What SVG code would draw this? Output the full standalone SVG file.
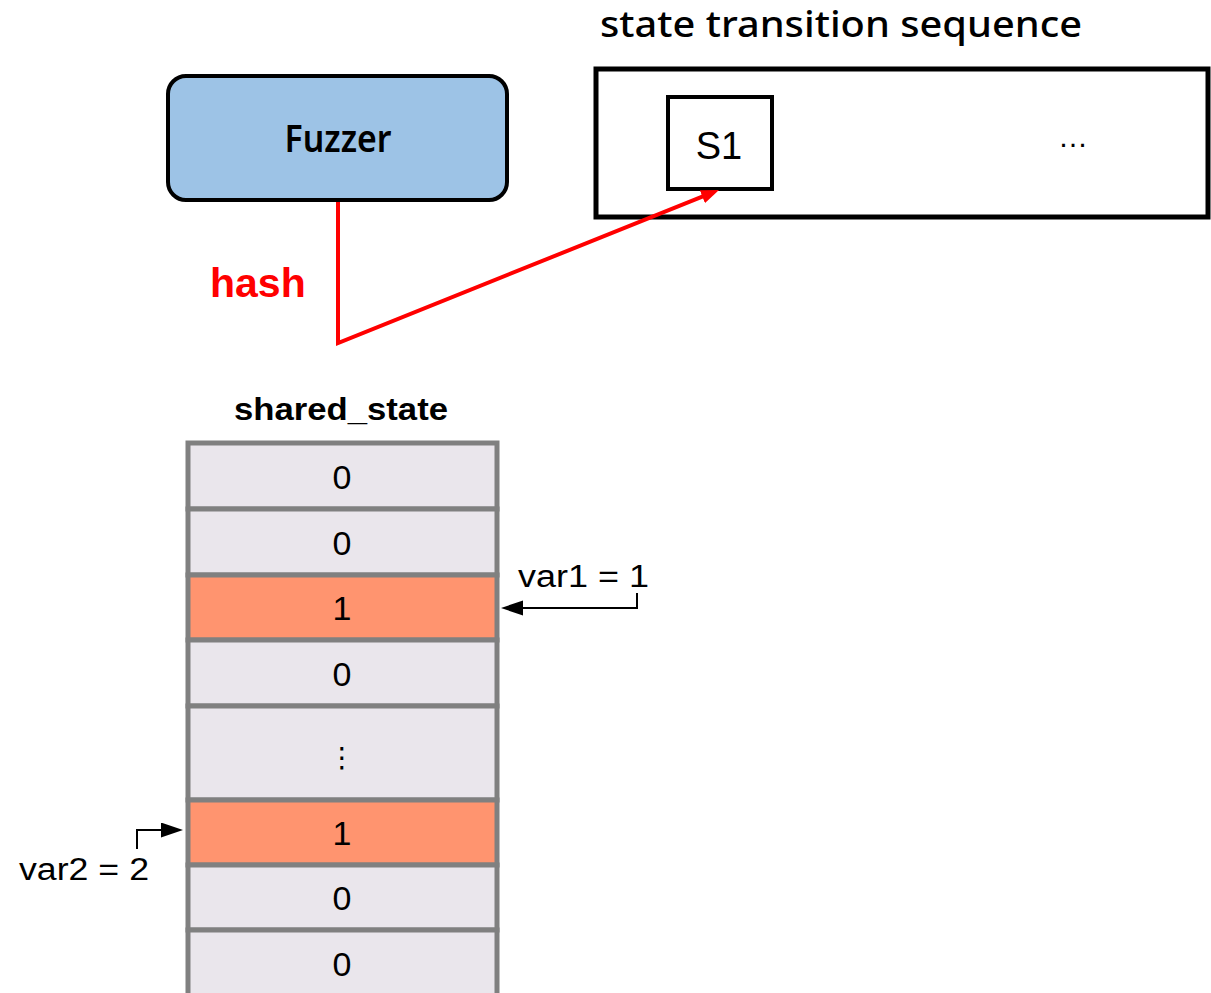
<svg xmlns="http://www.w3.org/2000/svg" width="1211" height="993" viewBox="0 0 1211 993">
  <style>
    .sans { font-family: "Liberation Sans", Arial, sans-serif; }
    .cjk { font-family: "Noto Sans", "Noto Sans CJK SC", sans-serif; }
    .cell { stroke: #808080; stroke-width: 5; }
    .plain { fill: #EAE6EC; }
    .hot { fill: #FF946F; }
    .digit { font-family: "Liberation Sans", Arial, sans-serif; font-size: 34px; fill: #000; text-anchor: middle; }
    .label { font-family: "Liberation Sans", Arial, sans-serif; font-size: 31px; fill: #000; }
  </style>
  <defs>
    <marker id="redHead" markerUnits="userSpaceOnUse" markerWidth="20" markerHeight="14" refX="6" refY="7" orient="auto">
      <path d="M0,0 L18,7 L0,14 z" fill="#FF0000"/>
    </marker>
    <marker id="blackHead" markerUnits="userSpaceOnUse" markerWidth="22" markerHeight="16" refX="11" refY="7.5" orient="auto">
      <path d="M0,0 L22,7.5 L0,15 z" fill="#000"/>
    </marker>
  </defs>

  <rect width="1211" height="993" fill="#fff"/>

  <!-- Fuzzer -->
  <g id="fuzzer">
    <rect x="168" y="76" width="339" height="124" rx="18" ry="18" fill="#9DC3E6" stroke="#000" stroke-width="4"/>
    <text x="338" y="152" class="cjk" font-size="37" font-weight="600" text-anchor="middle" textLength="107" lengthAdjust="spacingAndGlyphs">Fuzzer</text>
  </g>

  <!-- state transition sequence -->
  <g id="sequence">
    <text x="600" y="37" class="cjk" font-size="36" font-weight="500" textLength="482" lengthAdjust="spacingAndGlyphs">state transition sequence</text>
    <rect x="596" y="69" width="612" height="148" fill="#fff" stroke="#000" stroke-width="5"/>
    <text x="1073" y="147" class="sans" font-size="30" text-anchor="middle">…</text>
  </g>

  <g id="s1">
    <rect x="668" y="97" width="104" height="92" fill="#fff" stroke="#000" stroke-width="4"/>
    <text x="719" y="159" class="sans" font-size="38" text-anchor="middle">S1</text>
  </g>

  <!-- shared_state array -->
  <g id="shared_state">
    <text x="341" y="420" class="sans" font-size="31" font-weight="bold" text-anchor="middle" textLength="214" lengthAdjust="spacingAndGlyphs">shared_state</text>
    <rect class="cell plain" x="188" y="443" width="309" height="66"/>
    <rect class="cell plain" x="188" y="509" width="309" height="66"/>
    <rect class="cell hot" x="188" y="575" width="309" height="65"/>
    <rect class="cell plain" x="188" y="640" width="309" height="66"/>
    <rect class="cell plain" x="188" y="706" width="309" height="94"/>
    <rect class="cell hot" x="188" y="800" width="309" height="65"/>
    <rect class="cell plain" x="188" y="865" width="309" height="65"/>
    <rect class="cell plain" x="188" y="930" width="309" height="66"/>
    <text class="digit" x="342" y="489">0</text>
    <text class="digit" x="342" y="555">0</text>
    <text class="digit" x="342" y="620">1</text>
    <text class="digit" x="342" y="686">0</text>
    <text x="342" y="767" font-family="DejaVu Sans, sans-serif" font-size="28" text-anchor="middle">⋮</text>
    <text class="digit" x="342" y="845">1</text>
    <text class="digit" x="342" y="910">0</text>
    <text class="digit" x="342" y="976">0</text>
  </g>

  <!-- variable labels -->
  <g id="var1">
    <text class="label" x="518" y="587" textLength="131" lengthAdjust="spacingAndGlyphs">var1 = 1</text>
  </g>
  <g id="var2">
    <text class="label" x="19" y="880" textLength="130" lengthAdjust="spacingAndGlyphs">var2 = 2</text>
  </g>

  <g id="hash-label">
    <text x="210" y="297" class="sans" font-size="41" font-weight="bold" fill="#FF0000">hash</text>
  </g>

  <!-- connectors -->
  <g id="connectors" fill="none">
    <path d="M338,202 V343 L707.9,194.4" stroke="#FF0000" stroke-width="4" stroke-linejoin="miter" marker-end="url(#redHead)"/>
    <path d="M637,593 V608 H512" stroke="#000" stroke-width="2" marker-end="url(#blackHead)"/>
    <path d="M137,849 V830 H172" stroke="#000" stroke-width="2" marker-end="url(#blackHead)"/>
  </g>
</svg>
